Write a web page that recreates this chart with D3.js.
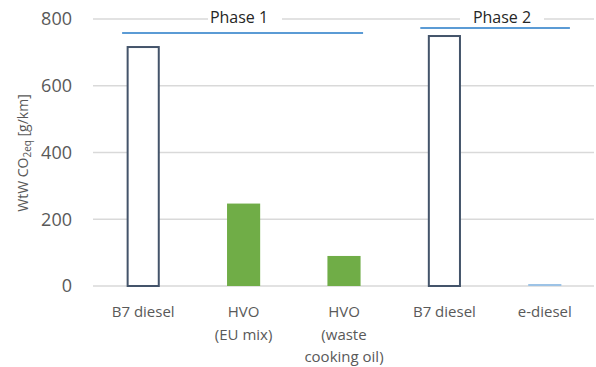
<!DOCTYPE html>
<html><head><meta charset="utf-8">
<script src="https://cdn.jsdelivr.net/npm/d3@7"></script>
<style>body{margin:0;background:#fff}svg{display:block}</style>
</head><body>
<script>
const categories = ["B7 diesel", "HVO\n(EU mix)", "HVO\n(waste\ncooking oil)", "B7 diesel", "e-diesel"];
const values = [716, 247, 90, 749, 6];
const barStyle = ["outline", "green", "green", "outline", "light"];
const yTicks = [0, 200, 400, 600, 800];
const phaseLabels = ["Phase 1", "Phase 2"];
const phaseLevels = [758, 773];
const phaseStart = [-0.21, 2.76];
const phaseEnd = [2.19, 4.25];

const W = 596, H = 367;
const m = {left: 93, right: 1, top: 19, bottom: 81};
const svg = d3.select("body").append("svg").attr("width", W).attr("height", H);
const x = d3.scaleBand().domain(d3.range(categories.length)).range([m.left, W - m.right]).paddingInner(0.67).paddingOuter(0.335);
const y = d3.scaleLinear().domain([0, 800]).range([H - m.bottom, m.top]);
const xi = d3.scaleLinear().domain([0, 1]).range([x(0) + x.bandwidth()/2, x(1) + x.bandwidth()/2]);

// gridlines
svg.append("g").selectAll("line").data(yTicks).join("line")
  .attr("x1", m.left).attr("x2", W - 2)
  .attr("y1", d => y(d)).attr("y2", d => y(d))
  .attr("stroke", "#d9d9d9").attr("stroke-width", 1.3);

// y axis labels
const yAxis = d3.axisLeft(y).tickValues(yTicks).tickSize(0).tickPadding(21);
const ya = svg.append("g").attr("transform", `translate(${m.left},0)`).call(yAxis);
ya.select(".domain").remove();
ya.selectAll("text").attr("font-family", "Open Sans").attr("font-size", 18).attr("fill", "#595959");

// axis title
const t = svg.append("text").attr("transform", `translate(28,${153}) rotate(-90)`)
  .attr("text-anchor", "middle").attr("font-family", "Open Sans").attr("font-size", 14).attr("fill", "#595959");
t.append("tspan").text("WtW CO");
t.append("tspan").text("2eq").attr("font-size", 10).attr("dy", 3);
t.append("tspan").text(" [g/km]").attr("dy", -3);

// bars
const colors = {green: "#70ad47", light: "#9dc3e6"};
svg.append("g").selectAll("rect").data(values).join("rect")
  .attr("x", (d, i) => x(i) + (barStyle[i] === "outline" ? 1 : 0))
  .attr("width", (d, i) => x.bandwidth() - (barStyle[i] === "outline" ? 2 : 0))
  .attr("y", d => y(d))
  .attr("height", d => y(0) - y(d))
  .attr("fill", (d, i) => barStyle[i] === "outline" ? "#fff" : colors[barStyle[i]])
  .attr("stroke", (d, i) => barStyle[i] === "outline" ? "#44546a" : "none")
  .attr("stroke-width", 2);

// x labels
const xl = svg.append("g").selectAll("text").data(categories).join("text")
  .attr("x", (d, i) => x(i) + x.bandwidth()/2).attr("y", 317)
  .attr("text-anchor", "middle").attr("font-family", "Open Sans").attr("font-size", 15).attr("fill", "#595959");
xl.selectAll("tspan").data(d => d.split("\n")).join("tspan")
  .attr("x", function() { return this.parentNode.getAttribute("x"); })
  .attr("dy", (d, j) => j === 0 ? 0 : 22.5).text(d => d);

// phase lines
svg.append("g").selectAll("line").data(phaseLabels).join("line")
  .attr("x1", (d, i) => xi(phaseStart[i])).attr("x2", (d, i) => xi(phaseEnd[i]))
  .attr("y1", (d, i) => y(phaseLevels[i])).attr("y2", (d, i) => y(phaseLevels[i]))
  .attr("stroke", "#5b9bd5").attr("stroke-width", 2);

// phase labels
const phaseX = [239, 502];
const pg = svg.append("g").selectAll("g").data(phaseLabels).join("g");
pg.append("rect").attr("x", (d, i) => phaseX[i] - (i === 0 ? 31 : 42)).attr("width", (d, i) => i === 0 ? 74 : 84)
  .attr("y", 10).attr("height", 16).attr("fill", "#fff");
pg.append("text").attr("x", (d, i) => phaseX[i]).attr("y", 23)
  .attr("text-anchor", "middle").attr("font-family", "Open Sans").attr("font-size", 16).attr("fill", "#262626")
  .text(d => d);
</script>
</body></html>
